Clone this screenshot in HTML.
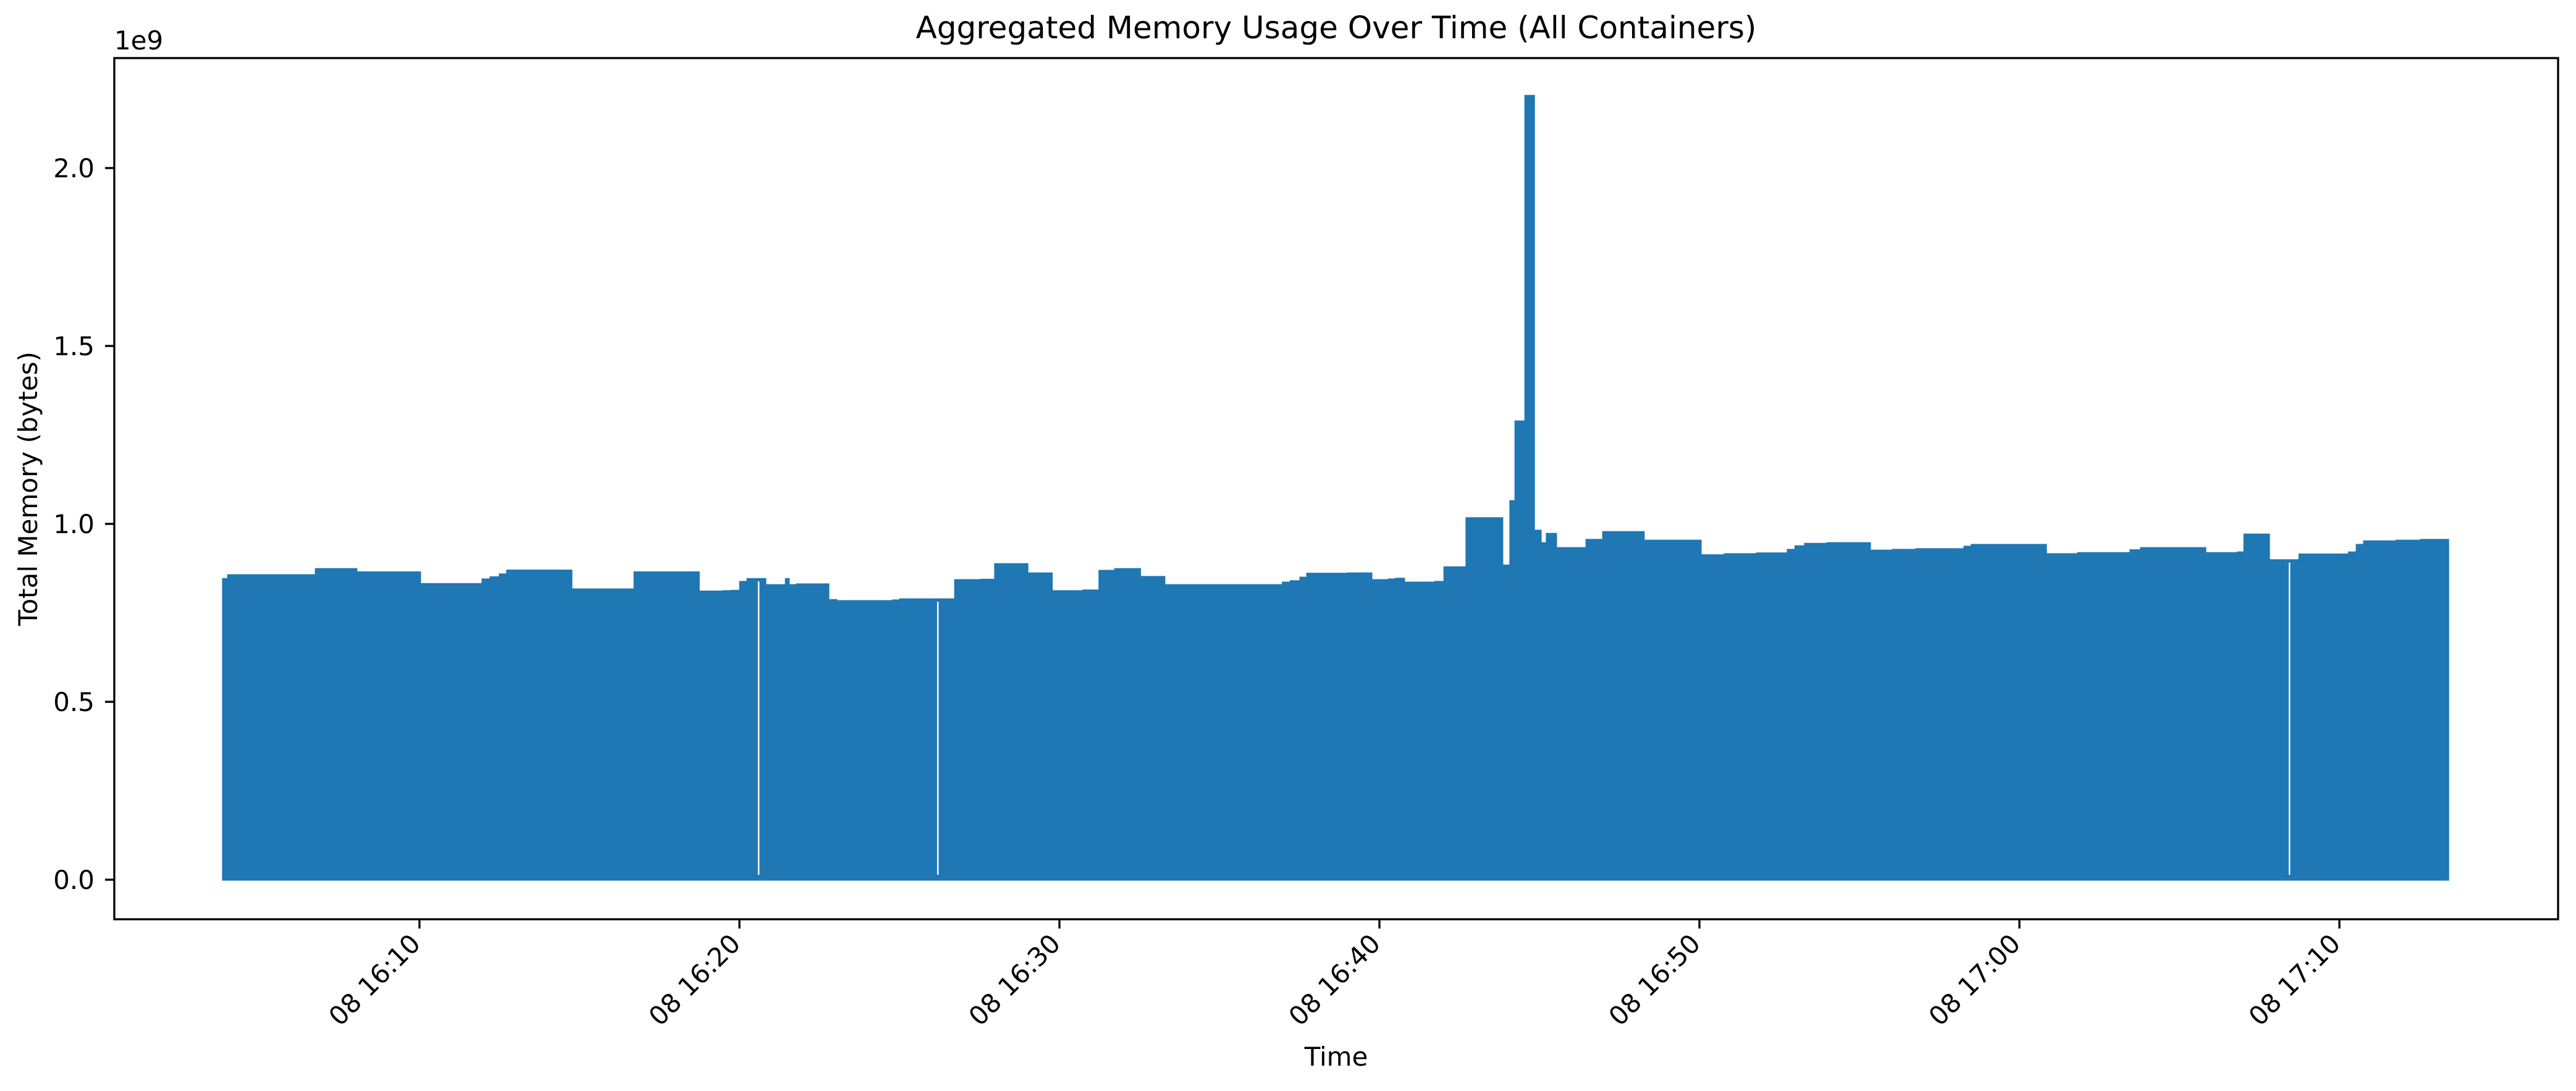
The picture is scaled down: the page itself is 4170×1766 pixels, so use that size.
<!DOCTYPE html>
<html><head><meta charset="utf-8"><style>
html,body{margin:0;padding:0;background:#fff;}
svg{display:block;font-family:"DejaVu Sans","Liberation Sans",sans-serif;}
</style></head><body>
<svg id="chart" width="4170" height="1766" viewBox="0 0 4170 1766" xmlns="http://www.w3.org/2000/svg">
<rect width="4170" height="1766" fill="#fff"/>
<text x="2163" y="62" font-size="50" text-anchor="middle">Aggregated Memory Usage Over Time (All Containers)</text>
<g id="plot"></g>
<rect x="185" y="94" width="3956" height="1394" fill="none" stroke="#000" stroke-width="3.3"/>
<text x="185" y="80" font-size="42">1e9</text>
<text x="2163" y="1725" font-size="42" text-anchor="middle">Time</text>
<text transform="translate(60,791) rotate(-90)" font-size="42" text-anchor="middle">Total Memory (bytes)</text>
<g id="axes"></g>
</svg>
<script>
// minutes after 16:00 where each step starts, and memory (×1e9 bytes)
const stepStarts = [3.86,4.02,6.76,8.03,10.02,11.97,12.22,12.51,12.74,14.75,16.72,18.73,19.5,19.75,20.02,20.25,20.81,21.45,21.54,21.8,22.78,23.03,24.79,25.02,26.74,27.55,27.99,29.0,29.76,30.75,31.25,31.74,32.52,33.28,36.98,37.23,37.53,37.74,39.02,39.75,40.29,40.52,40.77,41.74,42.03,42.72,43.84,44.09,44.25,44.56,44.83,45.04,45.23,45.52,46.47,46.99,48.26,50.04,50.79,51.8,52.76,53.0,53.3,54.0,55.33,56.04,56.78,58.28,58.51,60.83,61.83,63.47,63.8,65.81,66.83,67.03,67.8,68.75,70.3,70.54,70.77,71.78,72.55];
const stepValues = [0.845,0.856,0.873,0.864,0.831,0.844,0.850,0.858,0.869,0.816,0.864,0.810,0.811,0.812,0.837,0.845,0.828,0.845,0.828,0.830,0.786,0.783,0.785,0.788,0.842,0.843,0.887,0.861,0.811,0.813,0.868,0.873,0.851,0.828,0.835,0.839,0.849,0.860,0.861,0.842,0.844,0.846,0.835,0.837,0.878,1.016,0.883,1.064,1.288,2.203,0.981,0.946,0.972,0.932,0.955,0.977,0.953,0.912,0.915,0.917,0.927,0.937,0.944,0.946,0.925,0.927,0.929,0.936,0.941,0.915,0.918,0.926,0.932,0.918,0.920,0.970,0.898,0.914,0.920,0.941,0.951,0.953,0.955];
const seriesEnd = 73.4;
const gapTimes = [20.6, 26.2, 68.44];
const xTickMinutes = [10,20,30,40,50,60,70];
const xTickLabels = ["08 16:10","08 16:20","08 16:30","08 16:40","08 16:50","08 17:00","08 17:10"];
const yTickValues = [0,0.5,1.0,1.5,2.0];
const yTickLabels = ["0.0","0.5","1.0","1.5","2.0"];

const NS="http://www.w3.org/2000/svg";
const xs = m => 161 + m*51.8;
const ys = v => 1424 - v*576;
const plot=document.getElementById('plot'), axes=document.getElementById('axes');
function mk(tag, attrs, parent){const e=document.createElementNS(NS,tag);for(const k in attrs)e.setAttribute(k,attrs[k]);parent.appendChild(e);return e;}

let d = `M${xs(stepStarts[0])},${ys(0)}`;
for(let i=0;i<stepStarts.length;i++){
  const next = i+1<stepStarts.length?stepStarts[i+1]:seriesEnd;
  d += ` L${xs(stepStarts[i])},${ys(stepValues[i])} L${xs(next)},${ys(stepValues[i])}`;
}
d += ` L${xs(seriesEnd)},${ys(0)} Z`;
const area = mk('path',{d:d,fill:'#1f77b4',stroke:'#1f77b4','stroke-width':3},plot);



gapTimes.forEach(t=>{
  let v=0;for(let i=0;i<stepStarts.length;i++){if(stepStarts[i]<=t)v=stepValues[i];}
  const g=mk('line',{x1:xs(t),x2:xs(t),y1:ys(0)-8,y2:ys(v)+4,stroke:'#fff','stroke-width':2.5},plot);
  
  
});

xTickMinutes.forEach((m,i)=>{
  const x=xs(m);
  const t=mk('line',{x1:x,x2:x,y1:1488,y2:1503,stroke:'#000','stroke-width':3.3},axes);
  
  
  const l=mk('text',{transform:`translate(${x+4},1530) rotate(-45)`,'font-size':42,'text-anchor':'end'},axes);
  l.textContent=xTickLabels[i];
  
  
});
yTickValues.forEach((v,i)=>{
  const y=ys(v);
  const t=mk('line',{x1:170,x2:185,y1:y,y2:y,stroke:'#000','stroke-width':3.3},axes);
  
  
  const l=mk('text',{x:153,y:y+15,'font-size':42,'text-anchor':'end'},axes);
  l.textContent=yTickLabels[i];
  
  
});
</script>
</body></html>
